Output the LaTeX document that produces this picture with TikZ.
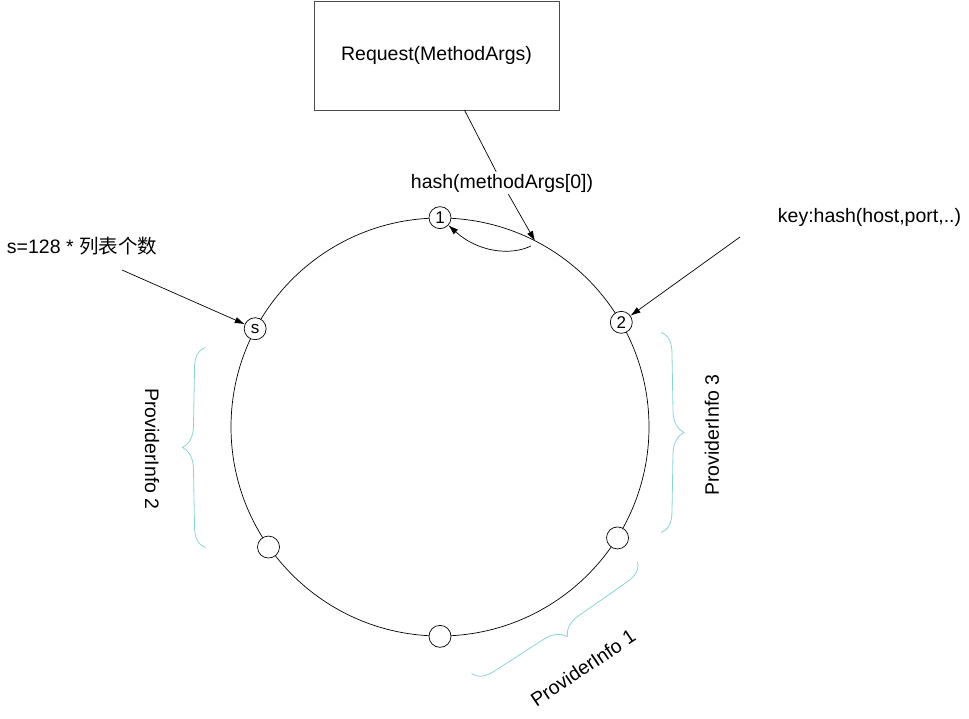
\documentclass[tikz,border=0pt]{standalone}
\usepackage{fontspec}
\setmainfont{Liberation Sans}
\newfontfamily\cjk{Noto Sans CJK SC}
\usetikzlibrary{arrows.meta}
\definecolor{bracec}{RGB}{140,212,212}
\tikzset{
  x=1pt, y=-1pt,
  lbl/.style={font=\fontsize{19.5}{23}\selectfont, inner sep=2pt},
  dot/.style={circle, draw, fill=white, minimum size=22pt, inner sep=0pt, line width=0.7pt, font=\fontsize{17}{19}\selectfont},
  arr/.style={-{Latex[length=10pt,width=6.5pt]}, line width=0.7pt},
  pics/pbrace/.style={code={
    \draw[bracec, line width=0.8pt] (-100,0) .. controls (-97,8) and (-90,11) .. (-78,11) -- (-22,12)
      .. controls (-10,12) and (-3,17) .. (0,23) .. controls (3,17) and (10,12) .. (22,12)
      -- (78,11) .. controls (90,11) and (97,8) .. (100,0);
  }}
}
\begin{document}
\begin{tikzpicture}
\useasboundingbox (0,0) rectangle (969,719);
% request box
\node[draw=black!70, line width=0.6pt, minimum width=245pt, minimum height=109pt, lbl] (req) at (436.5,55.5) {Request(MethodArgs)};
% ring
\node[draw, circle, minimum size=418pt, inner sep=0pt, line width=0.7pt] (ring) at (440,427) {};
% points on ring
\node[dot] (n1) at (ring.90) {1};
\node[dot] (ns) at (ring.152) {s};
\node[dot] (n2) at (ring.30) {2};
\node[dot] (n3) at (ring.-32) {};
\node[dot] (n4) at (ring.-90) {};
\node[dot] (n5) at (ring.-145) {};
% hash label and lines
\node[lbl, fill=white] (hash) at (502,183) {hash(methodArgs[0])};
\coordinate (hit) at (535,241);
\coordinate (cst) at (531,246);
\draw[line width=0.7pt] (req) -- (hash);
\draw[arr] (hash) -- (hit);
\draw[arr] (cst) .. controls (510,256) and (478,252) .. (n1);
% s label
\node[lbl] (stext) at (82,246) {s=128 * {\cjk 列表个数}};
\coordinate (sa) at (122,270);
\draw[arr] (sa) -- (ns);
% key label
\node[lbl] (ktext) at (869.5,217) {key:hash(host,port,..)};
\coordinate (ka) at (740,237);
\draw[arr] (ka) -- (n2);
% braces
\pic[rotate=-90] at (205.5,447.5) {pbrace};
\pic[rotate=90] at (661,432.5) {pbrace};
\pic[rotate=33.9] at (554.5,617.5) {pbrace};
% provider labels
\node[lbl, rotate=-90] (p2) at (152,449) {ProviderInfo 2};
\node[lbl, rotate=90] (p3) at (712,435) {ProviderInfo 3};
\node[lbl, rotate=34] (p1) at (583,668) {ProviderInfo 1};
\end{tikzpicture}
\end{document}
